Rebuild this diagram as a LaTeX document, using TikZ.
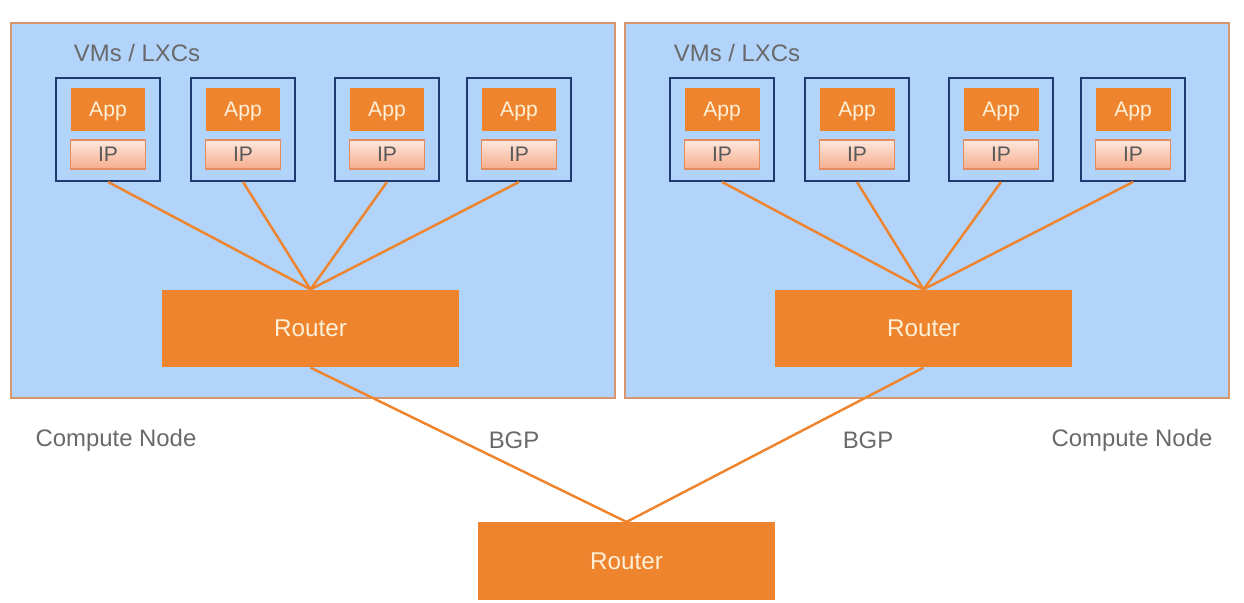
\documentclass[tikz,border=0pt]{standalone}
\usepackage{fontspec}
\setmainfont{Liberation Sans}
\usepackage{tikz}
\usetikzlibrary{positioning}
\definecolor{hostblue}{RGB}{178,211,250}
\definecolor{hostedge}{RGB}{214,150,110}
\definecolor{routerorange}{RGB}{239,132,46}
\definecolor{vmedge}{RGB}{30,58,110}
\definecolor{iptop}{RGB}{254,232,222}
\definecolor{ipbottom}{RGB}{247,172,140}
\definecolor{ipedge}{RGB}{226,140,95}
\definecolor{labelgray}{RGB}{105,105,105}
\definecolor{routertext}{RGB}{253,240,215}
\tikzset{%
	host/.style={
		draw=hostedge,
		fill=hostblue,
		line width=0.8pt,
		minimum width=12.08cm,
		minimum height=7.5cm,
		inner sep=0pt
	},
	vm/.style={
		draw=vmedge,
		line width=1.1pt,
		minimum width=2.08cm,
		minimum height=2.06cm,
		inner sep=0pt
	},
	app/.style={
		fill=routerorange,
		text=routertext,
		minimum width=1.5cm,
		minimum height=0.86cm,
		inner sep=0pt,
		text depth=0pt,
		font=\fontsize{12}{14}\selectfont
	},
	ipbox/.style={
		draw=ipedge,
		line width=0.8pt,
		top color=iptop,
		bottom color=ipbottom,
		text=black!65,
		minimum width=1.5cm,
		minimum height=0.58cm,
		inner sep=0pt,
		font=\fontsize{12}{14}\selectfont
	},
	router/.style={
		fill=routerorange,
		text=routertext,
		minimum width=5.94cm,
		minimum height=1.55cm,
		inner sep=0pt,
		font=\fontsize{13.8}{16}\selectfont
	},
	link/.style={
		draw=routerorange,
		line width=1.4pt
	},
	caption/.style={
		text=labelgray,
		inner sep=0pt,
		font=\fontsize{13.6}{16}\selectfont
	}
}
\begin{document}
\begin{tikzpicture}[x=0.02cm,y=-0.02cm]
	\useasboundingbox (0,0) rectangle (1244,602);
	
	% Draw the two compute nodes
	\node[host] (hostL) at (313,210.5) {};
	\node[host] (hostR) at (927,210.5) {};
	\node[caption] (vmsL) at (137,53) {VMs / LXCs};
	\node[caption] (vmsR) at (737,53) {VMs / LXCs};
	
	% Draw the routers
	\node[router] (routerL) at (310.5,328.5) {Router};
	\node[router] (routerR) at (923.5,328.5) {Router};
	\node[router] (routerB) at (626.5,561) {Router};
	
	% Draw the VMs with App and IP
	\foreach \side/\left/\rt in {L/11/routerL, R/625/routerR}{
		\foreach \i/\dx in {1/97, 2/232, 3/376, 4/508}{
			\node[vm] (vm\side\i) at (\left+\dx,129.5) {};
			\node[app] (app\side\i) at (\left+\dx,109.5) {App};
			\node[ipbox] (ip\side\i) at (\left+\dx,154.5) {IP};
			\draw[link] (vm\side\i.south) -- (\rt.north);
		}
	}
	
	% Draw the BGP links
	\draw[link] (routerL.south) -- (routerB.north);
	\draw[link] (routerR.south) -- (routerB.north);
	
	\node[caption] (computeL) at (116,440) {Compute Node};
	\node[caption] (computeR) at (1132,440) {Compute Node};
	\node[caption] (bgpL) at (514,440) {BGP};
	\node[caption] (bgpR) at (868,440) {BGP};
	
\end{tikzpicture}
\end{document}
